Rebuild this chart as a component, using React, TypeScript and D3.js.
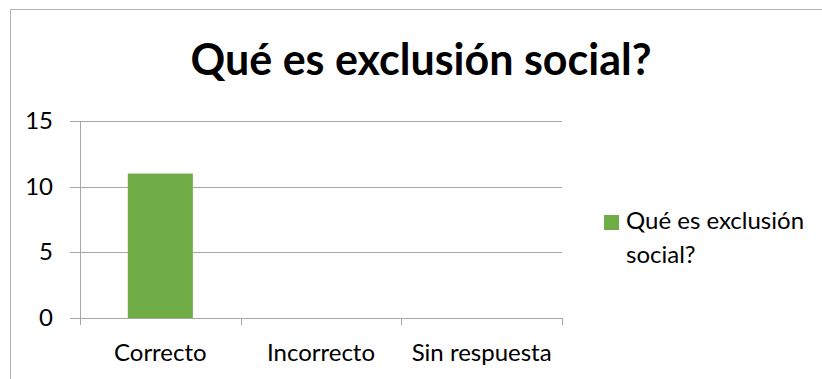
import React from "react";
import * as d3 from "d3";

const categories = ["Correcto", "Incorrecto", "Sin respuesta"];
const values = [11, 0, 0];
const seriesName = "Qué es exclusión social?";
const legendLines = ["Qué es exclusión", "social?"];
const yTicks = [0, 5, 10, 15];
const title = "Qué es exclusión social?";

const W = 822;
const H = 379;
const FONT = "Lato, Calibri, 'Open Sans', sans-serif";

export default function App() {
  const x = d3
    .scaleBand<string>()
    .domain(categories)
    .range([80, 562])
    .paddingInner(0.595)
    .paddingOuter(0.2975);
  const y = d3.scaleLinear().domain([0, 15]).range([318, 121]);
  const step = x.step();
  const boundaries = d3.range(categories.length + 1).map((i) => 80 + i * step);
  const grid = "#a6a6a6";

  return (
    <svg
      width={W}
      height={H}
      style={{ position: "absolute", left: 0, top: 0, background: "#fff" }}
      fontFamily={FONT}
    >
      <rect x={10.5} y={9.5} width={W + 20} height={H + 20} fill="#fff" stroke="#b3b3b3" strokeWidth={1} />
      <text x={421} y={75} textAnchor="middle" fontWeight="bold" fontSize={43} fill="#000">
        {title}
      </text>
      {yTicks.map((t) => (
        <g key={t}>
          <line x1={70} x2={562} y1={Math.round(y(t)) + 0.5} y2={Math.round(y(t)) + 0.5} stroke={grid} strokeWidth={1} />
          <text x={53} y={y(t) + 8} textAnchor="end" fontSize={24} fill="#000">
            {t}
          </text>
        </g>
      ))}
      <line x1={80.5} x2={80.5} y1={y(15)} y2={y(0)} stroke={grid} strokeWidth={1} />
      {boundaries.map((b, i) => (
        <line key={i} x1={Math.round(b) + 0.5} x2={Math.round(b) + 0.5} y1={y(0)} y2={y(0) + 7} stroke={grid} strokeWidth={1} />
      ))}
      {categories.map((c, i) => (
        <rect
          key={c}
          x={x(c)}
          y={y(values[i])}
          width={x.bandwidth()}
          height={y(0) - y(values[i])}
          fill="#70AD47"
        />
      ))}
      {categories.map((c) => (
        <text key={c} x={(x(c) as number) + x.bandwidth() / 2} y={361} textAnchor="middle" fontSize={24} fill="#000">
          {c}
        </text>
      ))}
      <g>
        <rect x={604} y={215} width={15} height={15} fill="#70AD47">
          <title>{seriesName}</title>
        </rect>
        {legendLines.map((l, i) => (
          <text key={i} x={626} y={229 + i * 34} fontSize={24} fill="#000">
            {l}
          </text>
        ))}
      </g>
    </svg>
  );
}
